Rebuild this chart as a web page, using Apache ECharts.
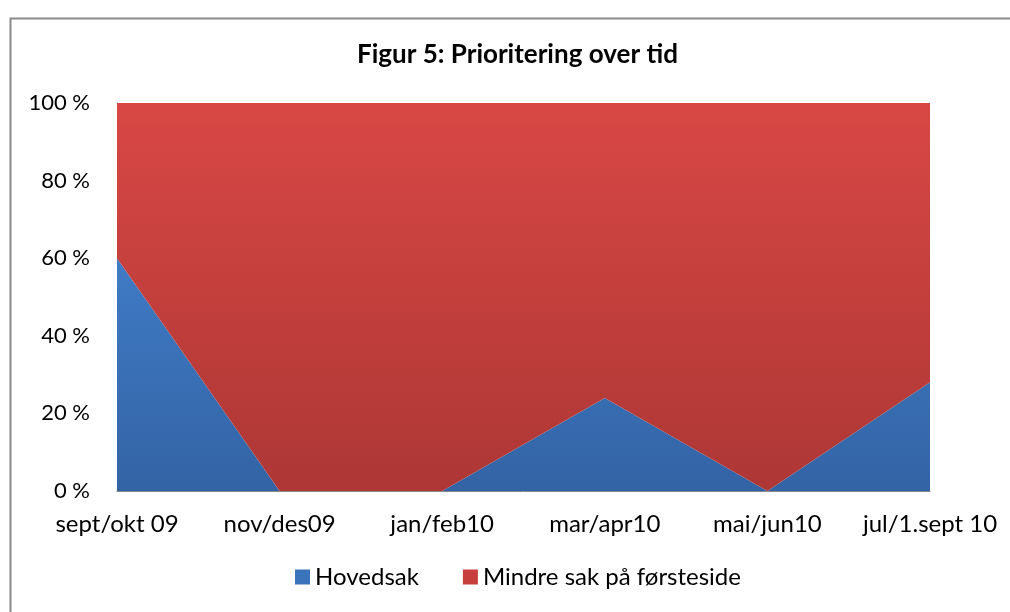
<!DOCTYPE html>
<html>
<head>
<meta charset="utf-8">
<script src="https://cdn.jsdelivr.net/npm/echarts@6/dist/echarts.min.js"></script>
<style>html,body{margin:0;padding:0;background:#fff;}#c{width:1010px;height:612px;}</style>
</head>
<body>
<div id="c"></div>
<script>
const categories = ['sept/okt 09', 'nov/des09', 'jan/feb10', 'mar/apr10', 'mai/jun10', 'jul/1.sept 10'];
const hovedsak = [60, 0, 0, 24, 0, 28];
const mindreSak = [40, 100, 100, 76, 100, 72];
const yTicks = [0, 20, 40, 60, 80, 100];

const FONT = 'Lato';
const chart = echarts.init(document.getElementById('c'), null, {renderer: 'canvas'});
const blueGrad = new echarts.graphic.LinearGradient(0, 0, 0, 1, [
  {offset: 0, color: '#3f7bc4'}, {offset: 1, color: '#3363a5'}
]);
const redGrad = new echarts.graphic.LinearGradient(0, 0, 0, 1, [
  {offset: 0, color: '#d84744'}, {offset: 1, color: '#ad3735'}
]);
chart.setOption({
  backgroundColor: '#ffffff',
  animation: false,
  graphic: [{
    type: 'rect', left: 8, top: 16, shape: {width: 1020, height: 620},
    style: {fill: 'none', stroke: '#8a8a8a', lineWidth: 2}, z: 100
  }],
  title: {
    text: 'Figur 5: Prioritering over tid',
    left: 357, top: 42, padding: 0,
    textStyle: {fontFamily: FONT, fontWeight: 'bold', fontSize: 26, color: '#000'}
  },
  grid: {left: 117, right: 80, top: 103, bottom: 121, containLabel: false},
  legend: {
    bottom: 18, left: 290,
    itemWidth: 15, itemHeight: 15, itemGap: 44,
    icon: 'rect',
    textStyle: {fontFamily: FONT, fontSize: 24, color: '#000'},
    data: ['Hovedsak', 'Mindre sak på førsteside']
  },
  xAxis: {
    type: 'category', data: categories, boundaryGap: false,
    axisLine: {show: true, lineStyle: {color: '#868686', width: 1}},
    axisTick: {show: false},
    axisLabel: {fontFamily: FONT, fontSize: 24, color: '#000', margin: 21, interval: 0}
  },
  yAxis: {
    type: 'value', min: 0, max: 100, interval: 20,
    axisLine: {show: true, lineStyle: {color: '#868686', width: 1}},
    axisTick: {show: false},
    splitLine: {show: false},
    axisLabel: {fontFamily: FONT, fontSize: 22, color: '#000', margin: 27,
      formatter: v => yTicks.includes(v) ? v + ' %' : ''}
  },
  series: [{
    name: 'Hovedsak', type: 'line', stack: 'total', data: hovedsak,
    symbol: 'none', lineStyle: {width: 0}, itemStyle: {color: '#3c74bb'},
    areaStyle: {color: blueGrad, opacity: 1}
  }, {
    name: 'Mindre sak på førsteside', type: 'line', stack: 'total', data: mindreSak,
    symbol: 'none', lineStyle: {width: 0}, itemStyle: {color: '#c63f3c'},
    areaStyle: {color: redGrad, opacity: 1}
  }]
});
</script>
</body>
</html>
